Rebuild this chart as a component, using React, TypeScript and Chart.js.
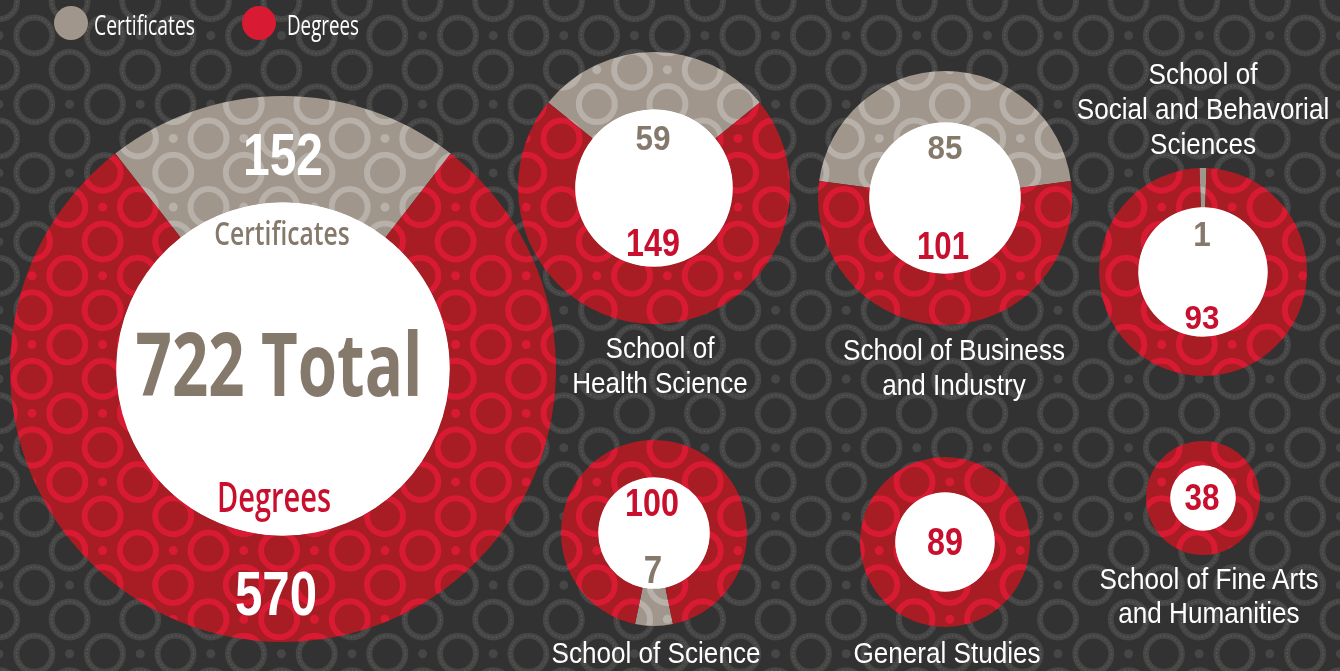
import React, { useEffect, useRef } from 'react';
import { Chart, registerables } from 'chart.js';

Chart.register(...registerables);

// ---------------- data ----------------
const seriesLabels = ['Certificates', 'Degrees'];
const schools = [
  'All Schools',
  'School of Health Science',
  'School of Business and Industry',
  'School of Social and Behavorial Sciences',
  'School of Science',
  'General Studies',
  'School of Fine Arts and Humanities',
];
const schoolLabelLines: string[][] = [
  [],
  ['School of', 'Health Science'],
  ['School of Business', 'and Industry'],
  ['School of', 'Social and Behavorial', 'Sciences'],
  ['School of Science'],
  ['General Studies'],
  ['School of Fine Arts', 'and Humanities'],
];
const certificates = [152, 59, 85, 1, 7, 0, 0];
const degrees = [570, 149, 101, 93, 100, 89, 38];

// ---------------- styles / layout ----------------
const BG = '#323232';
const BG_RING = '#464646';
const RED = '#a81c24';
const RED_RING = '#d81b33';
const GRAY = '#a0968c';
const GRAY_RING = '#b8b1a9';
const GRAY_TXT = '#85796c';
const RED_TXT = '#c8102e';
const LEGEND_GRAY = '#a0968c';
const LEGEND_RED = '#d91a33';

type NumPos = { x: number; y: number; f: number; k: number; c: string };
type Layout = {
  cx: number; cy: number; r: number; ir: number; certBottom?: boolean;
  cert?: NumPos; deg: NumPos; label?: { x: number; y: number; step: number };
};

const layout: Layout[] = [
  { cx: 283, cy: 369, r: 273, ir: 168, cert: { x: 283, y: 154, f: 60, k: 0.8, c: '#fff' }, deg: { x: 276, y: 592, f: 63, k: 0.78, c: '#fff' } },
  { cx: 654, cy: 188, r: 136, ir: 80, cert: { x: 653, y: 137, f: 35, k: 0.9, c: GRAY_TXT }, deg: { x: 653, y: 243, f: 38, k: 0.85, c: RED_TXT }, label: { x: 660, y: 348, step: 35 } },
  { cx: 945, cy: 198, r: 127, ir: 77, cert: { x: 945, y: 147, f: 33, k: 0.95, c: GRAY_TXT }, deg: { x: 943, y: 245, f: 39, k: 0.8, c: RED_TXT }, label: { x: 954, y: 350, step: 35 } },
  { cx: 1203, cy: 272, r: 104, ir: 66, cert: { x: 1202, y: 233, f: 35, k: 0.9, c: GRAY_TXT }, deg: { x: 1202, y: 317, f: 33, k: 0.95, c: RED_TXT }, label: { x: 1203, y: 74, step: 34.7 } },
  { cx: 654, cy: 533, r: 93, ir: 57, certBottom: true, cert: { x: 653, y: 569, f: 39, k: 0.85, c: GRAY_TXT }, deg: { x: 652, y: 503, f: 38, k: 0.85, c: RED_TXT }, label: { x: 656, y: 653, step: 35 } },
  { cx: 945, cy: 542, r: 85, ir: 51, deg: { x: 945, y: 542, f: 38, k: 0.85, c: RED_TXT }, label: { x: 947, y: 653, step: 35 } },
  { cx: 1203, cy: 498, r: 57, ir: 34, deg: { x: 1202, y: 497, f: 37, k: 0.85, c: RED_TXT }, label: { x: 1209, y: 579, step: 33.5 } },
];

const PX = 70.6;
const PY = 68.7;

function drawLattice(
  g: CanvasRenderingContext2D, ox: number, oy: number, w: number, h: number,
  color: string, dashed: boolean
) {
  const pts: [number, number, boolean][] = [];
  for (let m = -2; m <= Math.ceil(w / PX) + 2; m++) {
    for (let k = -2; k <= Math.ceil(h / PY) + 2; k++) {
      const dx = ox + m * PX;
      const dy = oy + k * PY;
      pts.push([dx, dy, false]);
      pts.push([dx + PX / 2, dy, true]);
      pts.push([dx, dy + PY / 2, true]);
    }
  }
  for (const [x, y, ring] of pts) {
    if (x < -30 || y < -30 || x > w + 30 || y > h + 30) continue;
    g.beginPath();
    if (ring) {
      g.arc(x, y, 18, 0, Math.PI * 2);
      g.lineWidth = 6;
      g.strokeStyle = color;
      g.setLineDash([]);
      g.stroke();
      if (dashed) {
        g.beginPath();
        g.arc(x, y, 18, 0, Math.PI * 2);
        g.lineWidth = 0.8;
        g.strokeStyle = 'rgba(150,132,105,0.55)';
        g.setLineDash([1.5, 2.5]);
        g.stroke();
        g.setLineDash([]);
      }
    } else {
      g.arc(x, y, 4.5, 0, Math.PI * 2);
      g.fillStyle = color;
      g.fill();
    }
  }
}

function makeTile(base: string, fg: string): HTMLCanvasElement {
  const c = document.createElement('canvas');
  c.width = 706;
  c.height = 687;
  const g = c.getContext('2d')!;
  g.fillStyle = base;
  g.fillRect(0, 0, c.width, c.height);
  drawLattice(g, 0, 0, c.width, c.height, fg, false);
  return c;
}

const whiteHole = {
  id: 'whiteHole',
  beforeDatasetsDraw(chart: any) {
    const arc = chart.getDatasetMeta(0).data[0];
    if (!arc) return;
    const { x, y, innerRadius } = arc.getProps(['x', 'y', 'innerRadius'], true);
    const ctx = chart.ctx;
    ctx.save();
    ctx.beginPath();
    ctx.arc(x, y, innerRadius + 0.5, 0, Math.PI * 2);
    ctx.fillStyle = '#ffffff';
    ctx.fill();
    ctx.restore();
  },
};

const NUM_FONT = '"Liberation Sans", Arial, Helvetica, sans-serif';
const OPEN = '"Open Sans", "Noto Sans", sans-serif';

function Txt(props: {
  x: number; y: number; f: number; k: number; c: string; w?: number; fam?: string;
  text: string; left?: boolean; shift?: number;
}) {
  const { x, y, f, k, c, w = 700, fam = NUM_FONT, text, left = false, shift = 0.012 } = props;
  const style: React.CSSProperties = {
    position: 'absolute',
    left: x,
    top: y + shift * f,
    fontFamily: fam,
    fontSize: f,
    fontWeight: w,
    color: c,
    lineHeight: 1,
    whiteSpace: 'nowrap',
    zIndex: 3,
    transformOrigin: left ? 'left center' : 'center center',
    transform: left ? `translate(0,-50%) scaleX(${k})` : `translate(-50%,-50%) scaleX(${k})`,
  };
  return <div style={style}>{text}</div>;
}

export default function App() {
  const bgRef = useRef<HTMLCanvasElement | null>(null);
  const canvasRefs = useRef<(HTMLCanvasElement | null)[]>([]);

  useEffect(() => {
    document.body.style.overflow = 'hidden';
    const bg = bgRef.current!;
    const g = bg.getContext('2d')!;
    g.fillStyle = BG;
    g.fillRect(0, 0, bg.width, bg.height);
    drawLattice(g, -1, 35.5, bg.width, bg.height, BG_RING, true);

    const redTile = makeTile(RED, RED_RING);
    const grayTile = makeTile(GRAY, GRAY_RING);

    const charts = layout.map((L, i) => {
      const cv = canvasRefs.current[i]!;
      const S = 2 * L.r + 4;
      const left = L.cx - S / 2;
      const top = L.cy - S / 2;
      const ctx = cv.getContext('2d')!;
      const redPat = ctx.createPattern(redTile, 'repeat')!;
      const grayPat = ctx.createPattern(grayTile, 'repeat')!;
      const m = new DOMMatrix([1, 0, 0, 1, 32 - left, 1 - top]);
      redPat.setTransform(m);
      grayPat.setTransform(m);
      const total = certificates[i] + degrees[i];
      const half = (certificates[i] / total) * 180;
      const rotation = L.certBottom ? 180 - half : -half;
      return new Chart(cv, {
        type: 'doughnut',
        data: {
          labels: seriesLabels,
          datasets: [
            {
              label: schools[i],
              data: [certificates[i], degrees[i]],
              backgroundColor: [grayPat, redPat],
              borderWidth: 0,
              hoverOffset: 0,
            },
          ],
        },
        options: {
          responsive: false,
          animation: false,
          devicePixelRatio: 1,
          events: [],
          radius: L.r,
          cutout: L.ir,
          rotation,
          layout: { padding: 0 },
          plugins: { legend: { display: false }, tooltip: { enabled: false } },
        } as any,
        plugins: [whiteHole],
      });
    });
    return () => charts.forEach((c) => c.destroy());
  }, []);

  const texts: React.ReactNode[] = [];
  layout.forEach((L, i) => {
    if (L.cert && certificates[i] > 0) {
      texts.push(<Txt key={`c${i}`} {...L.cert} text={String(certificates[i])} />);
    }
    texts.push(<Txt key={`d${i}`} {...L.deg} text={String(degrees[i])} />);
    if (L.label) {
      schoolLabelLines[i].forEach((line, j) => {
        texts.push(
          <Txt key={`l${i}-${j}`} x={L.label!.x} y={L.label!.y + j * L.label!.step} f={29} k={0.9} c="#ffffff" w={400} text={line} />
        );
      });
    }
  });

  return (
    <div style={{ position: 'absolute', left: 0, top: 0, width: 1340, height: 671, overflow: 'hidden', background: BG }}>
      <canvas ref={bgRef} width={1340} height={671} style={{ position: 'absolute', left: 0, top: 0, zIndex: 0 }} />
      {layout.map((L, i) => {
        const S = 2 * L.r + 4;
        return (
          <canvas
            key={i}
            ref={(el) => { canvasRefs.current[i] = el; }}
            width={S}
            height={S}
            style={{ position: 'absolute', left: L.cx - S / 2, top: L.cy - S / 2, width: S, height: S, zIndex: 1 }}
          />
        );
      })}
      {/* legend */}
      <div style={{ position: 'absolute', left: 71 - 17, top: 23 - 17, width: 34, height: 34, borderRadius: '50%', background: LEGEND_GRAY, zIndex: 3 }} />
      <Txt x={94} y={25} f={28} k={0.69} c="#ffffff" w={400} fam={OPEN} shift={-0.031} left text={seriesLabels[0]} />
      <div style={{ position: 'absolute', left: 259 - 17, top: 23 - 17, width: 34, height: 34, borderRadius: '50%', background: LEGEND_RED, zIndex: 3 }} />
      <Txt x={287} y={25} f={28} k={0.67} c="#ffffff" w={400} fam={OPEN} shift={-0.031} left text={seriesLabels[1]} />
      {/* big chart captions */}
      <Txt x={282} y={233.5} f={32} k={0.77} c={GRAY_TXT} w={600} fam={OPEN} shift={-0.031} text={seriesLabels[0]} />
      <Txt x={278.5} y={365} f={87} k={0.73} c={GRAY_TXT} w={700} fam={OPEN} shift={-0.031} text={`${certificates[0] + degrees[0]} Total`} />
      <Txt x={273.5} y={497} f={42} k={0.69} c={RED_TXT} w={600} fam={OPEN} shift={-0.031} text={seriesLabels[1]} />
      {texts}
    </div>
  );
}
